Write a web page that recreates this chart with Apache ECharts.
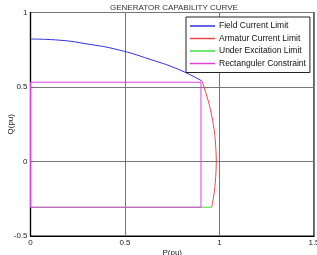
<!DOCTYPE html>
<html>
<head>
<meta charset="utf-8">
<script src="https://cdn.jsdelivr.net/npm/echarts@6/dist/echarts.min.js"></script>
<style>
  html, body { margin: 0; padding: 0; background: #fff; }
  #chart { width: 317px; height: 255px; }
</style>
</head>
<body>
<div id="chart"></div>
<script>
// values
const fieldP = [0, 0.146, 0.304, 0.463, 0.632, 0.791, 0.907];
const fieldQ = [0.822, 0.815, 0.788, 0.75, 0.686, 0.614, 0.54];

const armP = [0.908, 0.942, 0.96, 0.973, 0.98, 0.983, 0.98, 0.973, 0.959];
const armQ = [0.54, 0.4, 0.3, 0.2, 0.1, 0, -0.1, -0.2, -0.307];

const underP = [0, 0.96];
const underQ = [-0.307, -0.307];

const rectP = [0, 0, 0.902, 0.902, 0];
const rectQ = [-0.307, 0.532, 0.532, -0.307, -0.307];

const xTicks = [0, 0.5, 1, 1.5];
const yTicks = [-0.5, 0, 0.5, 1];

const zip = (a, b) => a.map((v, i) => [v, b[i]]);

window.onload = function () {
    const myChart = echarts.init(document.getElementById('chart'));

    const font = 'Liberation Sans, Arial, sans-serif';

    const option = {
        animation: false,
        title: {
            text: 'GENERATOR CAPABILITY CURVE',
            left: 105,
            top: -1,
            textStyle: { fontSize: 8, fontWeight: 'normal', color: '#333', fontFamily: font }
        },
        grid: {
            left: 30.5, right: 3, top: 12.5, bottom: 19,
            show: true, borderColor: '#000', borderWidth: 1.2,
            containLabel: false,
            outerBoundsMode: 'none'
        },
        legend: {
            orient: 'vertical',
            left: 186, top: 17,
            padding: [4, 4, 4, 4],
            backgroundColor: '#fff',
            borderColor: '#222', borderWidth: 1,
            itemWidth: 25, itemHeight: 1.5, itemGap: 2.5,
            icon: 'rect',
            textStyle: { fontSize: 8.5, lineHeight: 10, color: '#111', fontFamily: font, padding: [0, 0, 0, -1] },
            data: ['Field Current Limit', 'Armatur Current Limit', 'Under Excitation Limit', 'Rectanguler Constraint']
        },
        xAxis: {
            type: 'value', min: 0, max: 1.5, interval: 0.5,
            name: 'P(pu)', nameLocation: 'middle', nameGap: 13, nameMoveOverlap: false,
            nameTextStyle: { fontSize: 8, color: '#222', fontFamily: font },
            axisLine: { show: true, onZero: false, lineStyle: { color: '#000', width: 1.2 } },
            axisTick: { show: false },
            axisLabel: {
                fontSize: 8, color: '#222', margin: 3, fontFamily: font,
                formatter: v => xTicks.includes(v) ? String(v) : ''
            },
            splitLine: { show: true, lineStyle: { color: '#777', width: 1 } }
        },
        yAxis: {
            type: 'value', min: -0.5, max: 1, interval: 0.5,
            name: 'Q(pu)', nameLocation: 'middle', nameGap: 16, nameMoveOverlap: false,
            nameTextStyle: { fontSize: 8, color: '#222', fontFamily: font },
            axisLine: { show: true, onZero: false, lineStyle: { color: '#000', width: 1.2 } },
            axisTick: { show: false },
            axisLabel: {
                fontSize: 8, color: '#222', margin: 3, fontFamily: font,
                formatter: v => yTicks.includes(v) ? String(v) : ''
            },
            splitLine: { show: true, lineStyle: { color: '#777', width: 1 } }
        },
        series: [
            {
                name: 'Field Current Limit', type: 'line', data: zip(fieldP, fieldQ),
                symbol: 'none', smooth: 0.5, clip: false,
                lineStyle: { color: '#3030e0', width: 1 }, itemStyle: { color: '#3030e0' }
            },
            {
                name: 'Under Excitation Limit', type: 'line', data: zip(underP, underQ),
                symbol: 'none', clip: false,
                lineStyle: { color: '#40e040', width: 1 }, itemStyle: { color: '#40e040' }
            },
            {
                name: 'Rectanguler Constraint', type: 'line', data: zip(rectP, rectQ),
                symbol: 'none', clip: false,
                lineStyle: { color: '#e040e0', width: 1 }, itemStyle: { color: '#e040e0' }
            },
            {
                name: 'Armatur Current Limit', type: 'line', data: zip(armP, armQ),
                symbol: 'none', smooth: 0.3, clip: false,
                lineStyle: { color: '#f04848', width: 1 }, itemStyle: { color: '#f04848' }
            }
        ]
    };

    myChart.setOption(option);
};
</script>
</body>
</html>
